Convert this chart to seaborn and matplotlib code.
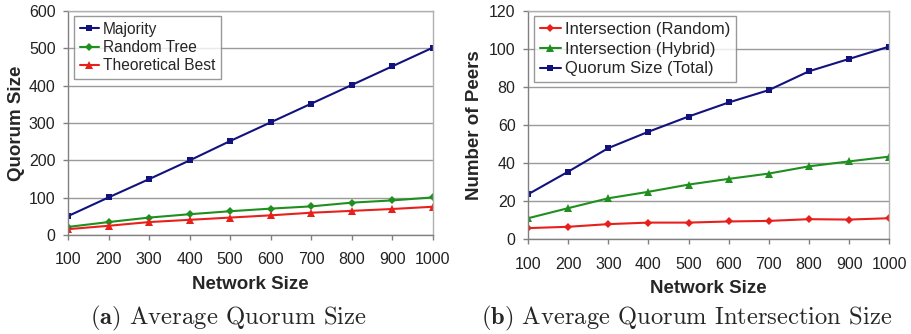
import matplotlib
matplotlib.use("Agg")
import matplotlib.pyplot as plt
import seaborn as sns
import pandas as pd

network_size = [100, 200, 300, 400, 500, 600, 700, 800, 900, 1000]

# (a) Average Quorum Size
majority = [51, 101, 150, 200, 252, 302, 352, 402, 452, 502]
random_tree = [22, 35, 47, 56, 64, 71, 77, 87, 93, 101]
theoretical_best = [16, 25, 35, 41, 47, 53, 60, 65, 70, 76]

# (b) Average Quorum Intersection Size
inter_random = [5.8, 6.5, 7.9, 8.7, 8.7, 9.3, 9.6, 10.5, 10.3, 11.0]
inter_hybrid = [11.0, 16.3, 21.5, 24.9, 28.7, 31.7, 34.5, 38.3, 40.9, 43.4]
quorum_total = [23.6, 35.5, 47.9, 56.5, 64.5, 71.9, 78.4, 88.3, 94.8, 101.3]

left_names = ["Majority", "Random Tree", "Theoretical Best"]
right_names = ["Intersection (Random)", "Intersection (Hybrid)", "Quorum Size (Total)"]

NAVY = "#12127f"
GREEN = "#1f8f1f"
RED = "#e8201c"

sns.set_theme(style="white")
plt.rcParams["font.family"] = ["Liberation Sans", "DejaVu Sans"]
plt.rcParams["mathtext.fontset"] = "cm"

def long_df(names, series):
    rows = []
    for n, s in zip(names, series):
        for x, y in zip(network_size, s):
            rows.append({"Network Size": x, "value": y, "series": n})
    return pd.DataFrame(rows)

fig = plt.figure(figsize=(9.12, 3.34), dpi=100)
ax1 = fig.add_axes([0.0746, 0.296, 0.400, 0.671])
ax2 = fig.add_axes([0.579, 0.284, 0.396, 0.683])

def style_axes(ax, ymax, ystep, ylabel, ylabelpad):
    ax.set_xlim(100, 1000)
    ax.set_ylim(0, ymax)
    ax.set_xticks(network_size)
    ax.set_yticks(range(0, ymax + 1, ystep))
    ax.yaxis.grid(True, color="#9a9a9a", linewidth=1.0)
    ax.xaxis.grid(False)
    ax.set_axisbelow(True)
    for side in ["left", "bottom"]:
        ax.spines[side].set_color("#808080")
        ax.spines[side].set_linewidth(1.0)
    for side in ["top", "right"]:
        ax.spines[side].set_color("#b0b0b0")
        ax.spines[side].set_linewidth(1.0)
    ax.tick_params(axis="both", which="both", length=3.5, width=1, color="#808080",
                   labelsize=11.5, labelcolor="#222222", direction="out",
                   bottom=True, left=True)
    ax.tick_params(axis="x", pad=9)
    ax.tick_params(axis="y", pad=5.5)
    ax.set_xlabel("Network Size", fontsize=13.5, fontweight="bold", labelpad=6)
    ax.set_ylabel(ylabel, fontsize=13.5, fontweight="bold", labelpad=ylabelpad)

legend_kw = dict(loc="upper left", frameon=True, fancybox=False,
                 edgecolor="#808080", handlelength=1.25, handletextpad=0.25,
                 borderpad=0.35, borderaxespad=0.0)

left_ms = [5.0, 3.6, 5.8]
right_ms = [3.6, 5.8, 5.0]

df1 = long_df(left_names, [majority, random_tree, theoretical_best])
sns.lineplot(data=df1, x="Network Size", y="value", hue="series", style="series",
             hue_order=left_names, style_order=left_names,
             palette={"Majority": NAVY, "Random Tree": GREEN, "Theoretical Best": RED},
             markers={"Majority": "s", "Random Tree": "D", "Theoretical Best": "^"},
             dashes=False, linewidth=1.5, markersize=5, markeredgewidth=0,
             ax=ax1)
style_axes(ax1, 600, 100, "Quorum Size", 2.5)
for line, ms in zip(ax1.lines[:3], left_ms):
    line.set_markersize(ms)
leg1 = ax1.legend(bbox_to_anchor=(0.017, 0.977), fontsize=11.2, labelspacing=0.22,
                  **legend_kw)
leg1.get_frame().set_linewidth(1.0)
for h, ms in zip(leg1.get_lines(), left_ms):
    h.set_markersize(ms)

df2 = long_df(right_names, [inter_random, inter_hybrid, quorum_total])
sns.lineplot(data=df2, x="Network Size", y="value", hue="series", style="series",
             hue_order=right_names, style_order=right_names,
             palette={"Intersection (Random)": RED, "Intersection (Hybrid)": GREEN,
                      "Quorum Size (Total)": NAVY},
             markers={"Intersection (Random)": "D", "Intersection (Hybrid)": "^",
                      "Quorum Size (Total)": "s"},
             dashes=False, linewidth=1.5, markersize=5, markeredgewidth=0,
             ax=ax2)
style_axes(ax2, 120, 20, "Number of Peers", 4.5)
for line, ms in zip(ax2.lines[:3], right_ms):
    line.set_markersize(ms)
leg2 = ax2.legend(bbox_to_anchor=(0.017, 0.977), fontsize=12.0, labelspacing=0.28,
                  **legend_kw)
leg2.get_frame().set_linewidth(1.0)
for h, ms in zip(leg2.get_lines(), right_ms):
    h.set_markersize(ms)

cap_font = ["cmr10", "DejaVu Serif"]
fig.text(0.099, 0.029, r"$\mathbf{(a)}$ Average Quorum Size", fontsize=17.8,
         family=cap_font, ha="left", va="baseline")
fig.text(0.527, 0.029, r"$\mathbf{(b)}$ Average Quorum Intersection Size", fontsize=17.7,
         family=cap_font, ha="left", va="baseline")

fig.savefig("out.png", dpi=100)
